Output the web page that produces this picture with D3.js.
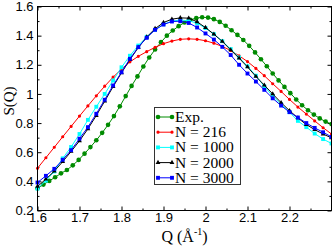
<!DOCTYPE html>
<html>
<head>
<meta charset="utf-8">
<script src="https://cdn.jsdelivr.net/npm/d3@7"></script>
<style>
  body { margin: 0; background: #fff; }
  svg { display: block; }
</style>
</head>
<body>
<div id="graph"></div>
<script>
'use strict';

// simulation grid (Q in 1/A)
const qSim = [1.60, 1.62, 1.64, 1.66, 1.68, 1.70, 1.72, 1.74, 1.76, 1.78,
              1.80, 1.82, 1.84, 1.86, 1.88, 1.90, 1.92, 1.94, 1.96, 1.98,
              2.00, 2.02, 2.04, 2.06, 2.08, 2.10, 2.12, 2.14, 2.16, 2.18,
              2.20, 2.22, 2.24, 2.26, 2.28, 2.30];

const sN216 = [0.490, 0.562, 0.634, 0.706, 0.777, 0.848, 0.918, 0.987, 1.053, 1.115,
               1.170, 1.220, 1.258, 1.290, 1.320, 1.345, 1.363, 1.375, 1.378, 1.375,
               1.365, 1.348, 1.326, 1.298, 1.262, 1.222, 1.175, 1.125, 1.070, 1.017,
               0.962, 0.910, 0.862, 0.815, 0.768, 0.725];

const sN1000 = [0.350, 0.405, 0.468, 0.558, 0.636, 0.725, 0.822, 0.912, 1.000, 1.092,
                1.183, 1.262, 1.332, 1.392, 1.440, 1.478, 1.500, 1.507, 1.503, 1.485,
                1.452, 1.410, 1.362, 1.308, 1.250, 1.190, 1.125, 1.052, 0.985, 0.930,
                0.875, 0.815, 0.772, 0.728, 0.690, 0.660];

const sN2000 = [0.365, 0.415, 0.470, 0.535, 0.605, 0.678, 0.760, 0.852, 0.950, 1.050,
                1.145, 1.235, 1.318, 1.390, 1.448, 1.490, 1.513, 1.522, 1.520, 1.495,
                1.455, 1.410, 1.360, 1.302, 1.245, 1.185, 1.120, 1.060, 1.000, 0.940,
                0.885, 0.835, 0.790, 0.755, 0.725, 0.698];

const sN3000 = [0.392, 0.438, 0.486, 0.548, 0.614, 0.693, 0.772, 0.864, 0.960, 1.058,
                1.149, 1.241, 1.321, 1.385, 1.440, 1.476, 1.497, 1.499, 1.487, 1.456,
                1.415, 1.373, 1.323, 1.267, 1.200, 1.140, 1.085, 1.028, 0.970, 0.920,
                0.875, 0.838, 0.800, 0.767, 0.737, 0.705];

// experiment
const qExp = [1.600, 1.614, 1.628, 1.642, 1.656, 1.670, 1.684, 1.698, 1.712, 1.726,
              1.740, 1.754, 1.768, 1.782, 1.796, 1.810, 1.824, 1.838, 1.852, 1.866,
              1.880, 1.894, 1.908, 1.922, 1.936, 1.950, 1.964, 1.978, 1.992, 2.006,
              2.020, 2.034, 2.048, 2.062, 2.076, 2.090, 2.104, 2.118, 2.132, 2.146,
              2.160, 2.174, 2.188, 2.202, 2.216, 2.230, 2.244, 2.258, 2.272, 2.286,
              2.300];

const sExp = [0.352, 0.378, 0.403, 0.428, 0.455, 0.478, 0.510, 0.547, 0.590, 0.635,
              0.682, 0.733, 0.788, 0.848, 0.915, 0.985, 1.055, 1.120, 1.188, 1.250,
              1.305, 1.355, 1.400, 1.435, 1.465, 1.490, 1.508, 1.520, 1.526, 1.524,
              1.513, 1.494, 1.468, 1.437, 1.405, 1.370, 1.330, 1.285, 1.238, 1.190,
              1.140, 1.093, 1.048, 1.005, 0.962, 0.922, 0.888, 0.858, 0.832, 0.810,
              0.793];

const xMajor = [1.6, 1.7, 1.8, 1.9, 2.0, 2.1, 2.2, 2.3];
const xLabels = ["1.6", "1.7", "1.8", "1.9", "2", "2.1", "2.2", ""];
const xMinor = [1.65, 1.75, 1.85, 1.95, 2.05, 2.15, 2.25];
const yMajor = [0.2, 0.4, 0.6, 0.8, 1.0, 1.2, 1.4, 1.6];
const yLabels = ["0.2", "0.4", "0.6", "0.8", "1", "1.2", "1.4", "1.6"];
const yMinor = [0.3, 0.5, 0.7, 0.9, 1.1, 1.3, 1.5];

const seriesNames = ["Exp.", "N = 216", "N = 1000", "N = 2000", "N = 3000"];

(function() {

  const width = 332, height = 248;
  const plotLeft = 37.5, plotRight = 331.5, plotTop = 6.5, plotBottom = 210.5;
  const font = "'Liberation Serif', 'Times New Roman', serif";

  const svg = d3.select('#graph').append('svg')
    .attr('width', width)
    .attr('height', height);

  const xScale = d3.scaleLinear().domain([1.6, 2.3]).range([plotLeft, plotRight]);
  const yScale = d3.scaleLinear().domain([0.2, 1.6]).range([plotBottom, plotTop]);

  // series styles
  const series = [
    { name: seriesNames[0], q: qExp, s: sExp, color: "#008b00", sym: d3.symbolCircle, size: 17 },
    { name: seriesNames[1], q: qSim, s: sN216, color: "#ff0000", sym: d3.symbolCircle, size: 8 },
    { name: seriesNames[2], q: qSim, s: sN1000, color: "#00ffff", sym: d3.symbolSquare, size: 15 },
    { name: seriesNames[3], q: qSim, s: sN2000, color: "#000000", sym: d3.symbolTriangle, size: 10 },
    { name: seriesNames[4], q: qSim, s: sN3000, color: "#0000ff", sym: d3.symbolSquare, size: 15 }
  ];

  // axes: ticks pointing inward on all four sides
  function drawAxes() {
    const g = svg.append('g').attr('font-family', font);

    g.append('g')
      .attr('transform', `translate(0,${plotBottom})`)
      .call(d3.axisBottom(xScale).tickValues(xMajor).tickSize(-4).tickSizeOuter(0)
        .tickPadding(2).tickFormat((d, i) => xLabels[i]))
      .call(a => a.selectAll('text').attr('font-size', 13).attr('fill', '#000'));
    g.append('g')
      .attr('transform', `translate(0,${plotBottom})`)
      .call(d3.axisBottom(xScale).tickValues(xMinor).tickSize(-2).tickSizeOuter(0).tickFormat(''));

    g.append('g')
      .attr('transform', `translate(0,${plotTop})`)
      .call(d3.axisTop(xScale).tickValues(xMajor).tickSize(-4).tickSizeOuter(0).tickFormat(''));
    g.append('g')
      .attr('transform', `translate(0,${plotTop})`)
      .call(d3.axisTop(xScale).tickValues(xMinor).tickSize(-2).tickSizeOuter(0).tickFormat(''));

    g.append('g')
      .attr('transform', `translate(${plotLeft},0)`)
      .call(d3.axisLeft(yScale).tickValues(yMajor).tickSize(-4).tickSizeOuter(0)
        .tickPadding(4).tickFormat((d, i) => yLabels[i]))
      .call(a => a.selectAll('text').attr('font-size', 13).attr('fill', '#000'));
    g.append('g')
      .attr('transform', `translate(${plotLeft},0)`)
      .call(d3.axisLeft(yScale).tickValues(yMinor).tickSize(-2).tickSizeOuter(0).tickFormat(''));

    g.append('g')
      .attr('transform', `translate(${plotRight},0)`)
      .call(d3.axisRight(yScale).tickValues(yMajor).tickSize(-4).tickSizeOuter(0).tickFormat(''));
    g.append('g')
      .attr('transform', `translate(${plotRight},0)`)
      .call(d3.axisRight(yScale).tickValues(yMinor).tickSize(-2).tickSizeOuter(0).tickFormat(''));

    g.selectAll('.domain').remove();
    g.selectAll('line').attr('stroke', '#000');
  }

  // lines + markers
  function plotData() {
    const line = d3.line().x(d => xScale(d[0])).y(d => yScale(d[1]));
    series.forEach(sr => {
      const pts = sr.q.map((q, i) => [q, sr.s[i]]);
      const g = svg.append('g');
      g.append('path')
        .datum(pts)
        .attr('d', line)
        .attr('fill', 'none')
        .attr('stroke', sr.color)
        .attr('stroke-width', 1);
      g.selectAll('path.pt')
        .data(pts)
        .enter()
        .append('path')
        .attr('class', 'pt')
        .attr('transform', d => `translate(${xScale(d[0])},${yScale(d[1])})`)
        .attr('d', d3.symbol().type(sr.sym).size(sr.size))
        .attr('fill', sr.color);
    });
  }

  function drawFrame() {
    svg.append('rect')
      .attr('x', plotLeft).attr('y', plotTop)
      .attr('width', plotRight - plotLeft).attr('height', plotBottom - plotTop)
      .attr('fill', 'none')
      .attr('stroke', '#000')
      .attr('stroke-width', 1);
  }

  function drawLegend() {
    const lg = svg.append('g').attr('font-family', font);
    lg.append('rect')
      .attr('x', 154.5).attr('y', 107.5)
      .attr('width', 86).attr('height', 77)
      .attr('fill', '#fff')
      .attr('stroke', '#333')
      .attr('stroke-width', 1);

    series.forEach((sr, i) => {
      const y = 117 + i * 15.2;
      lg.append('line')
        .attr('x1', 158).attr('x2', 172)
        .attr('y1', y).attr('y2', y)
        .attr('stroke', sr.color).attr('stroke-width', 1);
      [158, 172].forEach(x => {
        lg.append('path')
          .attr('transform', `translate(${x},${y})`)
          .attr('d', d3.symbol().type(sr.sym).size(sr.size))
          .attr('fill', sr.color);
      });
      lg.append('text')
        .attr('x', 175)
        .attr('y', y + 5)
        .attr('font-size', 15.5)
        .text(sr.name);
    });
  }

  function makeLabels() {
    svg.append('text')
      .attr('transform', 'translate(13.5,101)rotate(-90)')
      .attr('text-anchor', 'middle')
      .attr('font-family', font)
      .attr('font-size', 15)
      .text('S(Q)');

    const t = svg.append('text')
      .attr('x', 184.5)
      .attr('y', 242)
      .attr('text-anchor', 'middle')
      .attr('font-family', font)
      .attr('font-size', 16);
    t.append('tspan').text('Q (Å');
    t.append('tspan').attr('font-size', 10).attr('dy', -7).text('-1');
    t.append('tspan').attr('dy', 7).text(')');
  }

  drawAxes();
  plotData();
  drawFrame();
  drawLegend();
  makeLabels();

})();
</script>
</body>
</html>
